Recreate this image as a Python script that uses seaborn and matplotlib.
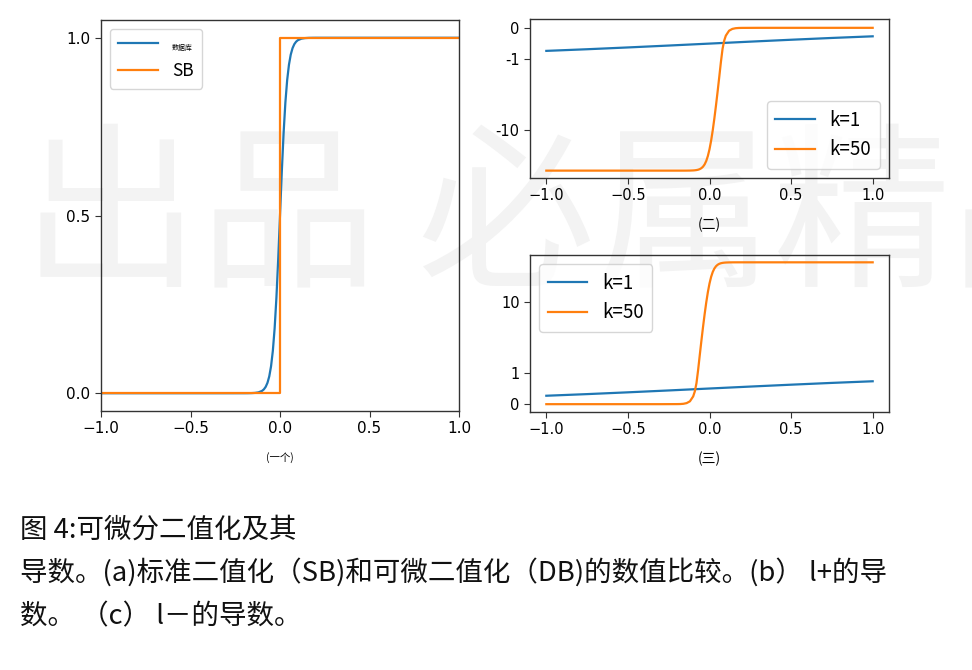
import matplotlib
matplotlib.use("Agg")
import matplotlib.pyplot as plt
from matplotlib.ticker import NullLocator
import seaborn as sns

# ---------------- data ----------------
x_k50 = [-1.0, -0.5, -0.3, -0.2, -0.18, -0.16, -0.14, -0.12, -0.10, -0.09,
         -0.08, -0.07, -0.06, -0.05, -0.04, -0.03, -0.02, -0.01, 0.0,
         0.01, 0.02, 0.03, 0.04, 0.05, 0.06, 0.07, 0.08, 0.09, 0.10,
         0.12, 0.14, 0.16, 0.18, 0.2, 0.3, 0.5, 1.0]

# (a) differentiable binarization (DB) and standard binarization (SB)
db_values = [0.0, 0.0, 0.0, 0.00005, 0.00012, 0.00034, 0.00091, 0.00247, 0.0067, 0.011,
             0.018, 0.0293, 0.0474, 0.0759, 0.1192, 0.1824, 0.2689, 0.3775, 0.5,
             0.6225, 0.7311, 0.8176, 0.8808, 0.9241, 0.9526, 0.9707, 0.982, 0.989, 0.9933,
             0.9975, 0.9991, 0.9997, 0.9999, 1.0, 1.0, 1.0, 1.0]
sb_x = [-1.0, 0.0, 0.0, 1.0]
sb_values = [0.0, 0.0, 1.0, 1.0]

# (b) derivative of l+
x_k1 = [-1.0, -0.75, -0.5, -0.25, 0.0, 0.25, 0.5, 0.75, 1.0]
lplus_k1 = [-0.731, -0.679, -0.622, -0.562, -0.5, -0.438, -0.378, -0.321, -0.269]
lplus_k50 = [-37.0, -37.0, -37.0, -37.0, -37.0, -36.99, -36.97, -36.91, -36.75, -36.59,
             -36.33, -35.92, -35.25, -34.19, -32.59, -30.25, -27.05, -23.03, -18.5,
             -13.97, -9.949, -6.749, -4.41, -2.808, -1.754, -1.084, -0.666, -0.407, -0.248,
             -0.091, -0.034, -0.012, -0.004, -0.002, 0.0, 0.0, 0.0]

# (c) derivative of l-
lminus_k1 = [0.269, 0.321, 0.378, 0.438, 0.5, 0.562, 0.622, 0.679, 0.731]
lminus_k50 = [0.0, 0.0, 0.0, 0.002, 0.004, 0.012, 0.034, 0.091, 0.248, 0.407,
              0.666, 1.084, 1.754, 2.808, 4.41, 6.749, 9.949, 13.97, 18.5,
              23.03, 27.05, 30.25, 32.59, 34.19, 35.25, 35.92, 36.33, 36.59, 36.75,
              36.91, 36.97, 36.99, 37.0, 37.0, 37.0, 37.0, 37.0]

x_ticks = [-1.0, -0.5, 0.0, 0.5, 1.0]
left_yticks = [0.0, 0.5, 1.0]
top_yticks = [0, -1, -10]
top_yticklabels = ["0", "-1", "-10"]
bot_yticks = [0, 1, 10]
bot_yticklabels = ["0", "1", "10"]

labels_a = ["数据库", "SB"]
labels_k = ["k=1", "k=50"]
sub_labels = ["(一个)", "(二)", "(三)"]
caption_lines = ["图 4:可微分二值化及其",
                 "导数。(a)标准二值化（SB)和可微二值化（DB)的数值比较。(b） l+的导",
                 "数。 （c） l－的导数。"]
watermark = "出品 必属精品"

# ---------------- style ----------------
CJK = ["Noto Sans CJK SC", "DejaVu Sans"]
plt.rcParams["font.family"] = ["DejaVu Sans", "Noto Sans CJK SC"]
blue = "#1f77b4"
orange = "#ff7f0e"

W, H = 972, 670
fig = plt.figure(figsize=(W / 100, H / 100), dpi=100)


def ax_at(x0, y0, x1, y1):
    return fig.add_axes([x0 / W, 1 - y1 / H, (x1 - x0) / W, (y1 - y0) / H])


# watermark (behind the transparent axes)
fig.text(22 / W, 1 - 272 / H, watermark, fontsize=128, family=CJK,
         color="#f3f3f3", ha="left", va="baseline", zorder=-5)

ax1 = ax_at(101, 20, 459, 411)
ax2 = ax_at(530, 19, 889, 178)
ax3 = ax_at(530, 255, 889, 412)

for ax in (ax1, ax2, ax3):
    ax.set_facecolor("none")
    for s in ax.spines.values():
        s.set_color("#333333")
        s.set_linewidth(1.0)
    ax.tick_params(labelsize=10.5, length=4, color="#333333")

leg_kw = dict(prop={"family": CJK, "size": 13.5}, handlelength=2.1,
              borderpad=0.45, labelspacing=0.45, handletextpad=0.8)

# (a)
sns.lineplot(x=x_k50, y=db_values, ax=ax1, color=blue, lw=1.6,
             label=labels_a[0], estimator=None, sort=False)
sns.lineplot(x=sb_x, y=sb_values, ax=ax1, color=orange, lw=1.6,
             label=labels_a[1], estimator=None, sort=False)
ax1.set_xlim(-1, 1)
ax1.set_ylim(-0.05, 1.05)
ax1.set_xticks(x_ticks)
ax1.set_yticks(left_yticks)
ax1.tick_params(labelsize=11)
leg1 = ax1.legend(loc="upper left", prop={"family": CJK, "size": 12.5},
                  handlelength=2.3, borderpad=0.5, labelspacing=0.6)
leg1.get_texts()[0].set_fontsize(5)
ax1.set_xlabel(sub_labels[0], family=CJK, fontsize=7.5, labelpad=11)

# (b)
sns.lineplot(x=x_k1, y=lplus_k1, ax=ax2, color=blue, lw=1.6,
             label=labels_k[0], estimator=None)
sns.lineplot(x=x_k50, y=lplus_k50, ax=ax2, color=orange, lw=1.6,
             label=labels_k[1], estimator=None)
ax2.set_yscale("symlog", linthresh=1, linscale=0.4)
ax2.set_ylim(-47, 0.28)
ax2.set_xticks(x_ticks)
ax2.set_yticks(top_yticks)
ax2.set_yticklabels(top_yticklabels)
ax2.yaxis.set_minor_locator(NullLocator())
ax2.legend(loc="lower right", **leg_kw)
ax2.set_xlabel(sub_labels[1], family=CJK, fontsize=10, labelpad=10)

# (c)
sns.lineplot(x=x_k1, y=lminus_k1, ax=ax3, color=blue, lw=1.6,
             label=labels_k[0], estimator=None)
sns.lineplot(x=x_k50, y=lminus_k50, ax=ax3, color=orange, lw=1.6,
             label=labels_k[1], estimator=None)
ax3.set_yscale("symlog", linthresh=1, linscale=0.4)
ax3.set_ylim(-0.25, 47)
ax3.set_xticks(x_ticks)
ax3.set_yticks(bot_yticks)
ax3.set_yticklabels(bot_yticklabels)
ax3.yaxis.set_minor_locator(NullLocator())
ax3.legend(loc="upper left", **leg_kw)
ax3.set_xlabel(sub_labels[2], family=CJK, fontsize=10, labelpad=10)

# caption
for i, line in enumerate(caption_lines):
    fig.text(20 / W, 1 - (538 + 43 * i) / H, line, family=CJK, fontsize=19.8,
             color="#111111", ha="left", va="baseline")

fig.savefig("out.png", dpi=100)
